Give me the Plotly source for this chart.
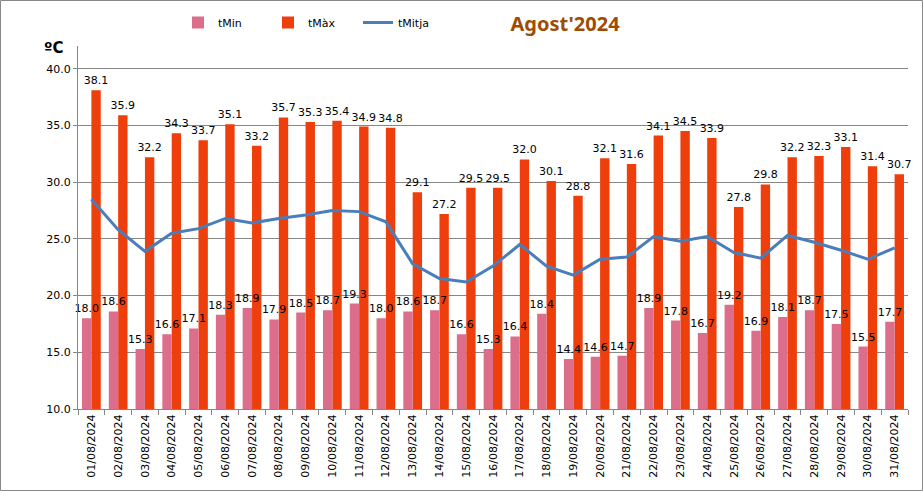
import plotly.graph_objects as go

dates = ["01/08/2024", "02/08/2024", "03/08/2024", "04/08/2024", "05/08/2024", "06/08/2024",
         "07/08/2024", "08/08/2024", "09/08/2024", "10/08/2024", "11/08/2024", "12/08/2024",
         "13/08/2024", "14/08/2024", "15/08/2024", "16/08/2024", "17/08/2024", "18/08/2024",
         "19/08/2024", "20/08/2024", "21/08/2024", "22/08/2024", "23/08/2024", "24/08/2024",
         "25/08/2024", "26/08/2024", "27/08/2024", "28/08/2024", "29/08/2024", "30/08/2024",
         "31/08/2024"]

t_min = [18.0, 18.6, 15.3, 16.6, 17.1, 18.3, 18.9, 17.9, 18.5, 18.7, 19.3, 18.0,
         18.6, 18.7, 16.6, 15.3, 16.4, 18.4, 14.4, 14.6, 14.7, 18.9, 17.8, 16.7,
         19.2, 16.9, 18.1, 18.7, 17.5, 15.5, 17.7]

t_max = [38.1, 35.9, 32.2, 34.3, 33.7, 35.1, 33.2, 35.7, 35.3, 35.4, 34.9, 34.8,
         29.1, 27.2, 29.5, 29.5, 32.0, 30.1, 28.8, 32.1, 31.6, 34.1, 34.5, 33.9,
         27.8, 29.8, 32.2, 32.3, 33.1, 31.4, 30.7]

t_mitja = [28.5, 25.8, 23.9, 25.5, 25.9, 26.8, 26.4, 26.8, 27.1, 27.5, 27.4, 26.5,
           22.8, 21.5, 21.2, 22.6, 24.5, 22.6, 21.8, 23.2, 23.4, 25.2, 24.8, 25.2,
           23.8, 23.3, 25.3, 24.7, 24.0, 23.2, 24.2]

FONT = "DejaVu Sans"
GRID = "#868686"
BW = 0.35

fig = go.Figure()

# tMax drawn first so the tMin labels sit on top of it
fig.add_trace(go.Bar(
    x=dates, y=t_max, name="tMàx", legendrank=2,
    width=BW, offset=0,
    marker=dict(color="#ee3e0c", line=dict(width=0)),
    texttemplate="%{y:.1f}", textposition="outside", textangle=0,
    constraintext="none", cliponaxis=False,
    textfont=dict(family=FONT, size=11, color="black"),
))
fig.add_trace(go.Bar(
    x=dates, y=t_min, name="tMin", legendrank=1,
    width=BW, offset=-BW,
    marker=dict(color="#dc6e8c", line=dict(width=0)),
    texttemplate="%{y:.1f}", textposition="outside", textangle=0,
    constraintext="none", cliponaxis=False,
    textfont=dict(family=FONT, size=11, color="black"),
))
fig.add_trace(go.Scatter(
    x=dates, y=t_mitja, name="tMitja", mode="lines", legendrank=3,
    line=dict(color="#4a7ebb", width=3),
))

L, R, T, B = 78, 15, 46, 82
W, H = 923, 491
pw, ph = W - L - R, H - T - B

fig.update_layout(
    width=W, height=H,
    margin=dict(l=L, r=R, t=T, b=B, pad=0, autoexpand=False),
    paper_bgcolor="white", plot_bgcolor="white",
    barmode="overlay",
    font=dict(family=FONT, size=11, color="black"),
    title=dict(text="<b>Agost'2024</b>", x=565 / W, xanchor="center",
               y=1 - 24 / H, yanchor="middle",
               font=dict(family="Noto Sans", size=20, color="#9e4c04")),
    legend=dict(orientation="h", x=(178 - L) / pw, xanchor="left",
                y=1 + (T - 8) / ph, yanchor="top",
                font=dict(family=FONT, size=11, color="black"),
                itemwidth=30, entrywidth=45,
                bgcolor="rgba(0,0,0,0)"),
    xaxis=dict(type="category", tickangle=-90, showgrid=False, automargin=False,
               showline=True, linecolor=GRID, linewidth=1,
               ticks="outside", tickson="boundaries", ticklen=5, tickcolor=GRID,
               tickfont=dict(family=FONT, size=11, color="black")),
    yaxis=dict(range=[10, 42], dtick=5, tick0=10, tickformat=".1f", automargin=False,
               showgrid=True, gridcolor=GRID, gridwidth=1,
               showline=True, linecolor=GRID, linewidth=1,
               ticks="outside", ticklen=4, tickcolor=GRID,
               tickfont=dict(family=FONT, size=11, color="black"),
               zeroline=False),
    annotations=[dict(text="<b>ºC</b>", xref="paper", yref="paper",
                      x=(53 - L) / pw, y=(H - B - 48) / ph,
                      xanchor="center", yanchor="middle", showarrow=False,
                      font=dict(family=FONT, size=15, color="black"))],
    shapes=[dict(type="rect", xref="paper", yref="paper",
                 x0=(0.5 - L) / pw, x1=(W - 0.5 - L) / pw,
                 y0=-(B - 0.5) / ph, y1=1 + (T - 0.5) / ph,
                 line=dict(color="#888888", width=1), fillcolor="rgba(0,0,0,0)",
                 layer="above")],
)

fig.write_html("out.html", config={"displayModeBar": False},
               post_script="document.body.style.margin='0';")
